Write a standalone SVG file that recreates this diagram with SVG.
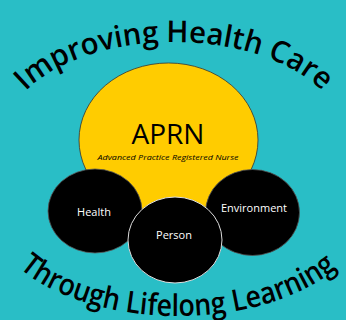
<svg xmlns="http://www.w3.org/2000/svg" width="346" height="320" viewBox="0 0 346 320">
  <style>
    .arc { font-family: "Open Sans", "Liberation Sans", sans-serif; font-weight: 600; font-size: 30px; fill: #000; }
    .lbl { font-family: "Open Sans", "Liberation Sans", sans-serif; fill: #fff; font-size: 11px; text-anchor: middle; }
    .blk { fill: #000; stroke: #555; stroke-width: 0.8; }
  </style>
  <defs>
    <path id="topArc" d="M 4 138 A 170 96 0 0 1 344 138"/>
    <path id="botArc" d="M -10 212 A 188 104 0 0 0 366 212"/>
  </defs>
  <rect x="0" y="0" width="346" height="320" fill="#29bec6"/>
  <g id="title-top">
    <text class="arc"><textPath href="#topArc" startOffset="50%" text-anchor="middle" textLength="320" lengthAdjust="spacingAndGlyphs">Improving Health Care</textPath></text>
  </g>
  <g id="aprn">
    <ellipse cx="168.5" cy="140" rx="89.5" ry="77" fill="#ffcc00" stroke="#333" stroke-width="0.8"/>
    <text x="168" y="143.5" font-family="Open Sans, Liberation Sans, sans-serif" font-size="28" text-anchor="middle" fill="#000">APRN</text>
    <text x="168" y="159.5" font-family="Open Sans, Liberation Sans, sans-serif" font-size="7.8" font-style="italic" text-anchor="middle" fill="#000" textLength="141" lengthAdjust="spacingAndGlyphs">Advanced Practice Registered Nurse</text>
  </g>
  <g id="health">
    <ellipse class="blk" cx="95" cy="211" rx="47" ry="42"/>
    <text class="lbl" x="94" y="216">Health</text>
  </g>
  <g id="environment">
    <ellipse class="blk" cx="252.5" cy="212.5" rx="47" ry="43"/>
    <text class="lbl" x="254" y="212">Environment</text>
  </g>
  <g id="person">
    <ellipse cx="175" cy="240" rx="47" ry="43" fill="#000" stroke="#ddd" stroke-width="1"/>
    <text class="lbl" x="174" y="239">Person</text>
  </g>
  <g id="title-bottom">
    <text class="arc"><textPath href="#botArc" startOffset="50%" text-anchor="middle" textLength="338" lengthAdjust="spacingAndGlyphs">Through Lifelong Learning</textPath></text>
  </g>
  <g id="connectors"/>
</svg>
